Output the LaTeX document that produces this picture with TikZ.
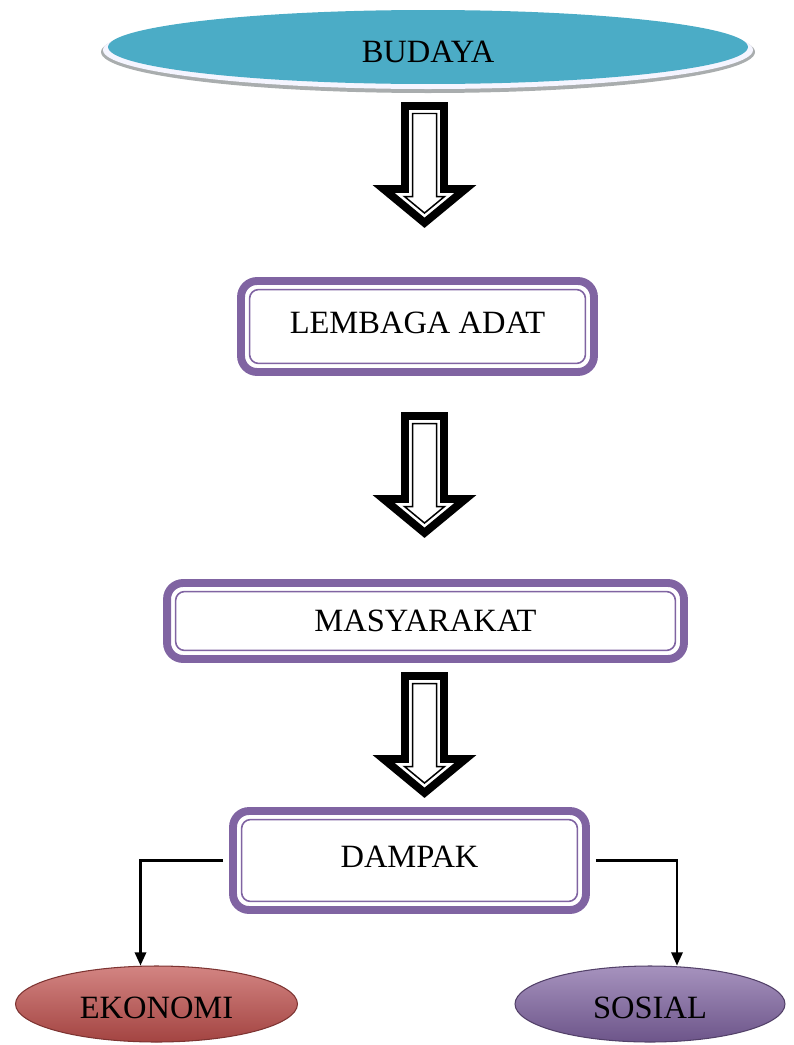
\documentclass[tikz,border=0pt]{standalone}
\usepackage{fontspec}
\setmainfont{Liberation Serif}
\usetikzlibrary{shapes.geometric,arrows.meta}

\definecolor{tealfill}{HTML}{4BACC6}
\definecolor{purp}{HTML}{8064A2}
\definecolor{ekored}{HTML}{C0504D}
\definecolor{rimgray}{HTML}{A9ADAE}

\tikzset{
  label font/.style={font=\fontsize{18.5}{22}\selectfont},
  stage/.style={label font, draw=purp, line width=4.5pt, rounded corners=0.32cm,
    fill=white, text depth=0.16cm},
  stageinner/.style={draw=purp, line width=0.9pt, rounded corners=0.18cm},
  outcome/.style={label font, ellipse, draw=#1!65!black, line width=0.6pt,
    top color=#1!70!white, middle color=#1, bottom color=#1!85!black,
    minimum height=1.52cm, inner sep=0pt, text height=0.59cm},
  link/.style={line width=1.2pt, -{Triangle[width=6.5pt,length=7.5pt]}, shorten <=3.4pt},
  pics/downarrow/.style={code={
    \foreach \ins/\lw in {4/4.5pt, 11.5/0.85pt}{
      \pgfmathsetmacro{\sw}{23.5-\ins}
      \pgfmathsetmacro{\hw}{52-2.78*\ins}
      \pgfmathsetmacro{\sy}{83+\ins}
      \pgfmathsetmacro{\ty}{126-1.3*\ins}
      \draw[line width=\lw, fill=white] (-\sw,\ins) -- (\sw,\ins) -- (\sw,\sy)
        -- (\hw,\sy) -- (0,\ty) -- (-\hw,\sy) -- (-\sw,\sy) -- cycle;
    }
  }}
}

\begin{document}
\begin{tikzpicture}[x=0.02cm,y=-0.02cm]
  \useasboundingbox (0,0) rectangle (794,1045);

  % top ellipse with its rim
  \fill[rimgray] (428,52) ellipse (327 and 41);
  \fill[blue!4!white] (428,50) ellipse (325 and 39);
  \node[label font, ellipse, fill=tealfill, minimum width=12.8cm, minimum height=1.48cm,
    text height=0.63cm] (budaya) at (428,47) {BUDAYA};

  % boxes
  \node[stage, minimum width=7.06cm, minimum height=1.82cm] (lembaga) at (417.5,326.5) {LEMBAGA ADAT};
  \node[stage, minimum width=10.34cm, minimum height=1.52cm, text depth=0cm] (masyarakat) at (425.5,621) {MASYARAKAT};
  \node[stage, minimum width=7.06cm, minimum height=1.98cm] (dampak) at (409.5,860.5) {DAMPAK};
  \foreach \b in {lembaga,masyarakat,dampak}
    \draw[stageinner] ([shift={(0.25cm,-0.25cm)}]\b.north west)
      rectangle ([shift={(-0.25cm,0.25cm)}]\b.south east);

  % hollow arrows
  \foreach \top in {102,412,672}
    \pic at (424.5,\top) {downarrow};

  % results
  \node[outcome=ekored, minimum width=5.64cm] (ekonomi) at (156.5,1004) {EKONOMI};
  \node[outcome=purp, minimum width=5.4cm] (sosial) at (650,1004) {SOSIAL};

  \draw[link] (dampak.west) -| ([xshift=-0.32cm]ekonomi.north);
  \draw[link] (dampak.east) -| ([xshift=0.54cm]sosial.north);
\end{tikzpicture}
\end{document}
